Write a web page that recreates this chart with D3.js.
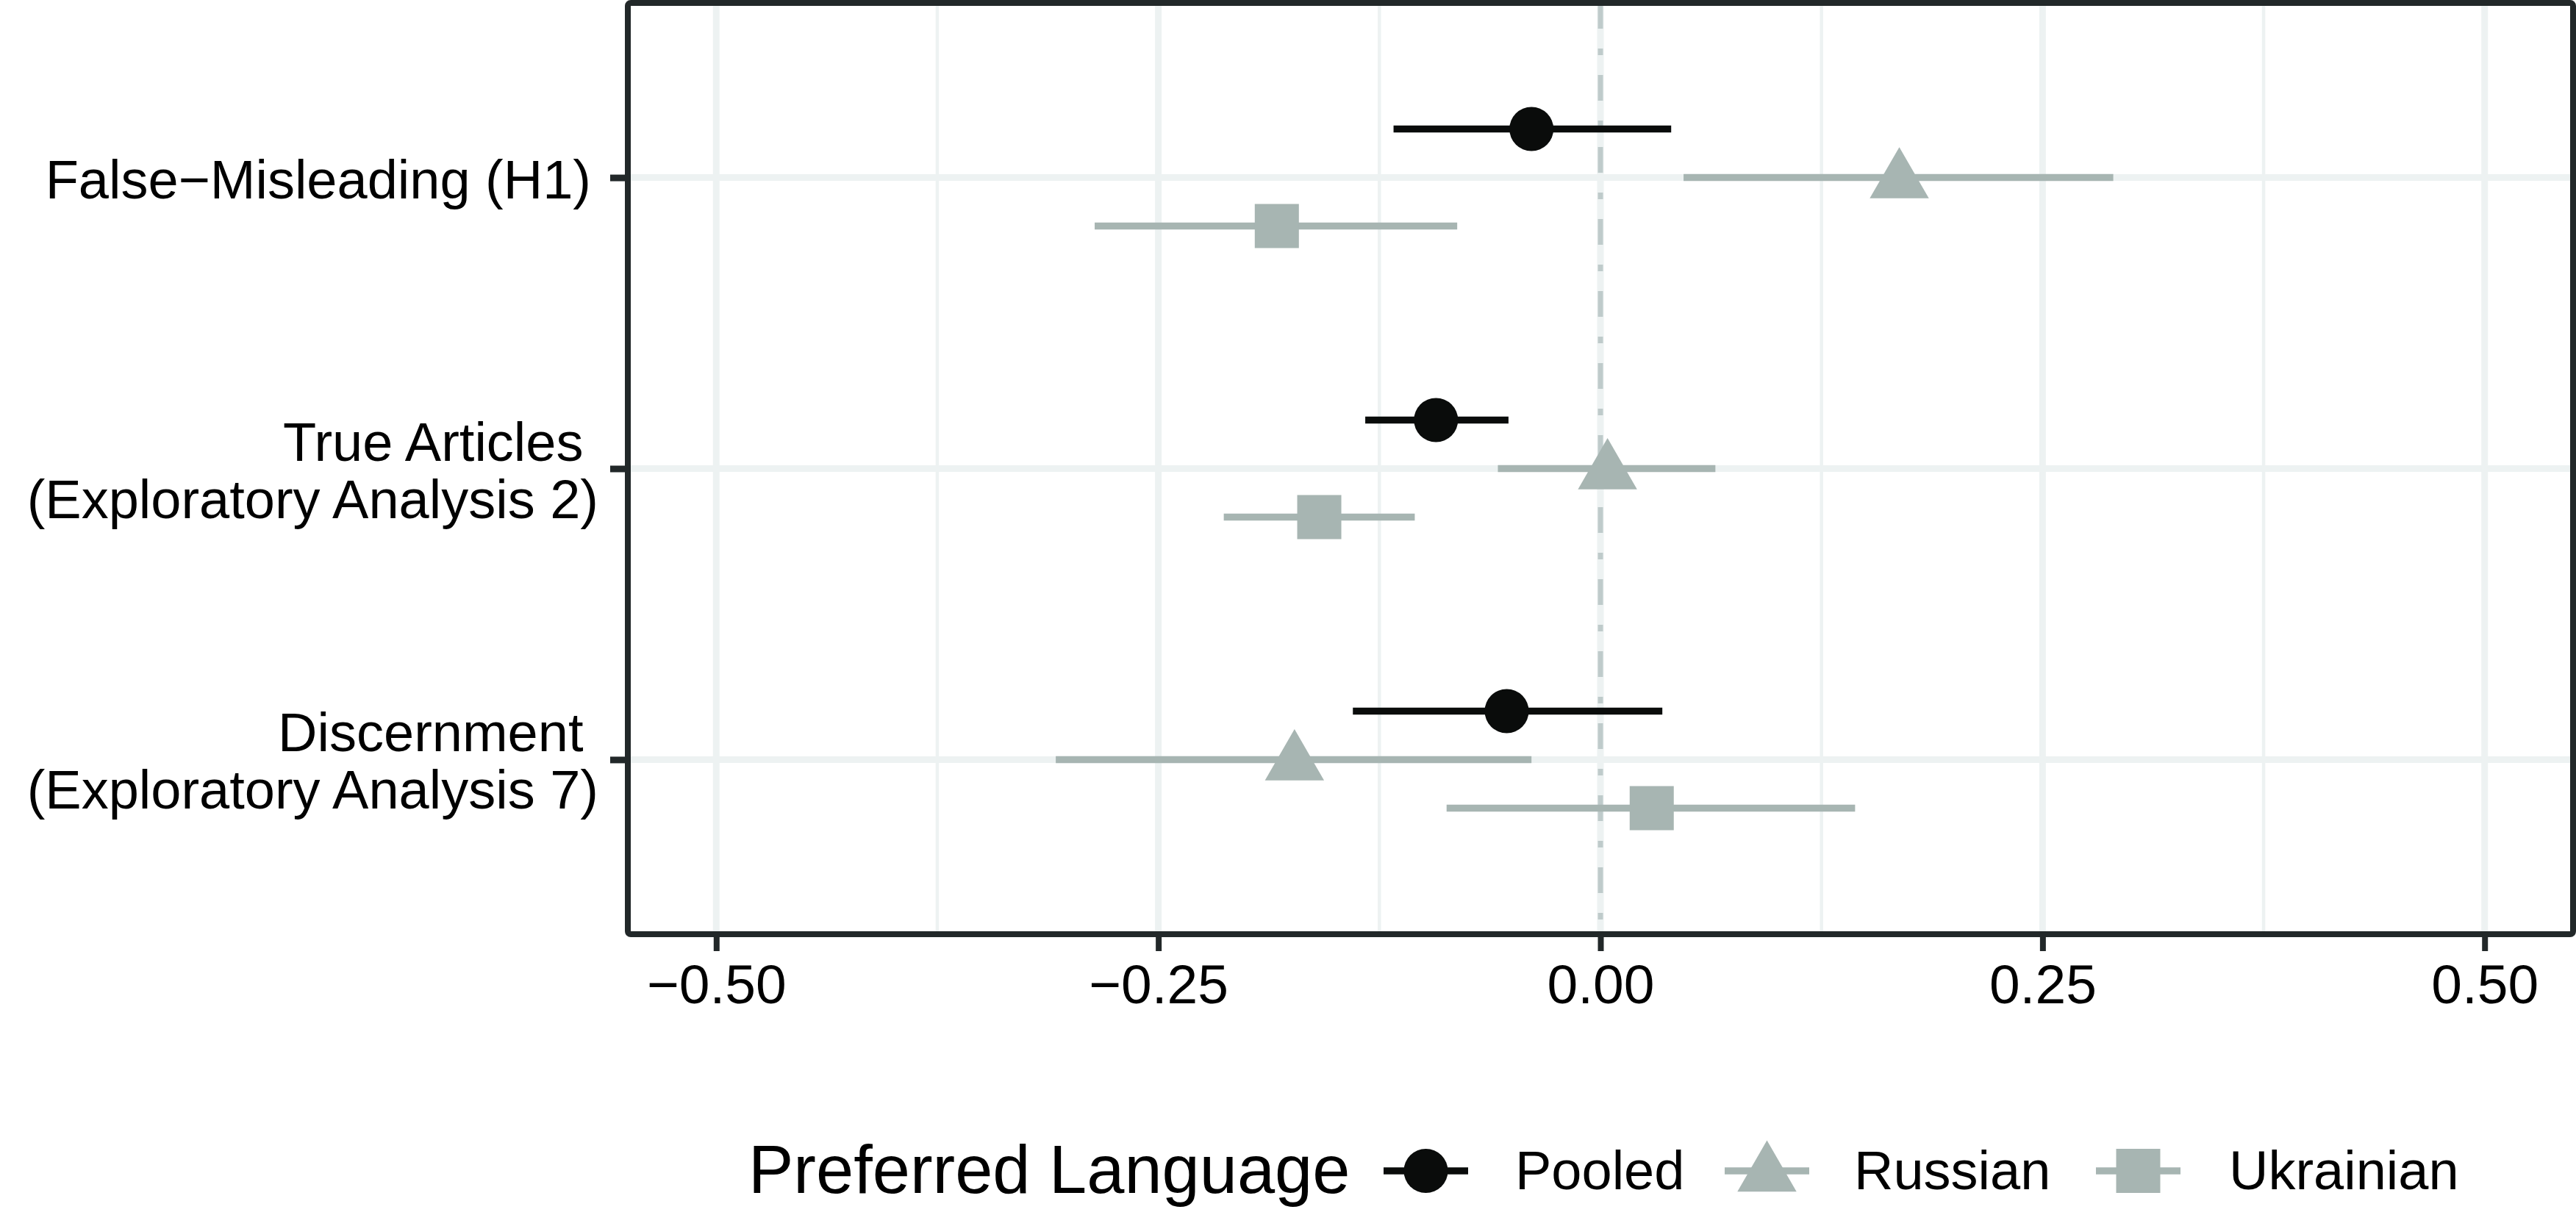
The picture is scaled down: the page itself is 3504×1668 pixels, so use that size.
<!DOCTYPE html>
<html>
<head>
<meta charset="utf-8">
<script src="https://cdn.jsdelivr.net/npm/d3@7"></script>
<style>
  html, body { margin: 0; padding: 0; background: #ffffff; }
  svg { display: block; }
  text { font-family: "Liberation Sans", Arial, Helvetica, sans-serif; fill: #000; }
</style>
</head>
<body>
<svg id="chart" width="3504" height="1668"></svg>
<script>
// ---------- DATA ----------
const outcomes = ["False\u2212Misleading (H1)", "True Articles\n(Exploratory Analysis 2)", "Discernment\n(Exploratory Analysis 7)"];
const groups = ["Pooled", "Russian", "Ukrainian"];
// estimates per outcome, order matches outcomes
const pooledEst   = [-0.039, -0.093, -0.053];
const pooledLow   = [-0.117, -0.133, -0.140];
const pooledHigh  = [ 0.040, -0.052,  0.035];
const russianEst  = [ 0.169,  0.004, -0.173];
const russianLow  = [ 0.047, -0.058, -0.308];
const russianHigh = [ 0.290,  0.065, -0.039];
const ukrEst      = [-0.183, -0.159,  0.029];
const ukrLow      = [-0.286, -0.213, -0.087];
const ukrHigh     = [-0.081, -0.105,  0.144];
const xTicks = [-0.50, -0.25, 0.00, 0.25, 0.50];
const xMinorTicks = [-0.375, -0.125, 0.125, 0.375];
const legendTitle = "Preferred Language";

// ---------- STYLE ----------
const colors = { Pooled: "#0a0c0b", Russian: "#a7b5b2", Ukrainian: "#a7b5b2" };
const shapes = { Pooled: d3.symbolCircle, Russian: d3.symbolTriangle, Ukrainian: d3.symbolSquare };
const shapeSize = { Pooled: 2830, Russian: 2800, Ukrainian: 3600 };

const rows = [];
const seriesArr = {
  Pooled: [pooledEst, pooledLow, pooledHigh],
  Russian: [russianEst, russianLow, russianHigh],
  Ukrainian: [ukrEst, ukrLow, ukrHigh]
};
outcomes.forEach((o, i) => {
  groups.forEach(g => {
    const [e, l, h] = seriesArr[g];
    rows.push({ outcome: o, group: g, est: e[i], low: l[i], high: h[i] });
  });
});

const svg = d3.select("#chart");
const panel = { left: 854, right: 3500, top: 4, bottom: 1271 };

const x = d3.scaleLinear().domain([-0.55, 0.55]).range([panel.left, panel.right]);
const y = d3.scalePoint().domain(outcomes).range([panel.top, panel.bottom]).padding(0.6);
const dodge = d3.scalePoint().domain(groups).range([-y.step() / 6, y.step() / 6]);

// grid
const g = svg.append("g");
g.selectAll(".minor").data(xMinorTicks).join("line")
  .attr("x1", d => x(d)).attr("x2", d => x(d))
  .attr("y1", panel.top).attr("y2", panel.bottom)
  .attr("stroke", "#edf2f2").attr("stroke-width", 4.5);
g.selectAll(".majorx").data(xTicks).join("line")
  .attr("x1", d => x(d)).attr("x2", d => x(d))
  .attr("y1", panel.top).attr("y2", panel.bottom)
  .attr("stroke", "#edf2f2").attr("stroke-width", 9);
g.selectAll(".majory").data(outcomes).join("line")
  .attr("x1", panel.left).attr("x2", panel.right)
  .attr("y1", d => y(d)).attr("y2", d => y(d))
  .attr("stroke", "#edf2f2").attr("stroke-width", 9);

// zero reference line (dot-dash)
g.append("line")
  .attr("x1", x(0)).attr("x2", x(0))
  .attr("y1", panel.top).attr("y2", panel.bottom)
  .attr("stroke", "#bfcbcb").attr("stroke-width", 7)
  .attr("stroke-dasharray", "35,27,9,27");

// error bars
g.selectAll(".err").data(rows).join("line")
  .attr("x1", d => x(d.low)).attr("x2", d => x(d.high))
  .attr("y1", d => y(d.outcome) + dodge(d.group))
  .attr("y2", d => y(d.outcome) + dodge(d.group))
  .attr("stroke", d => colors[d.group]).attr("stroke-width", 9.5);

// points
g.selectAll(".pt").data(rows).join("path")
  .attr("transform", d => {
    const dy = d.group === "Russian" ? 5 : 0;
    return `translate(${x(d.est)},${y(d.outcome) + dodge(d.group) + dy})`;
  })
  .attr("d", d => d3.symbol().type(shapes[d.group]).size(shapeSize[d.group])())
  .attr("fill", d => colors[d.group]);

// panel border
svg.append("rect")
  .attr("x", panel.left).attr("y", panel.top)
  .attr("width", panel.right - panel.left).attr("height", panel.bottom - panel.top)
  .attr("fill", "none").attr("stroke", "#222829").attr("stroke-width", 8).attr("rx", 4);

// x axis
const xAxis = svg.append("g").attr("transform", `translate(0,${panel.bottom})`)
  .call(d3.axisBottom(x).tickValues(xTicks).tickSize(23).tickPadding(18)
    .tickFormat(d => d3.format(".2f")(d).replace("-", "\u2212")));
xAxis.select(".domain").remove();
xAxis.selectAll(".tick line").attr("stroke", "#222829").attr("stroke-width", 8);
xAxis.selectAll(".tick text").attr("font-size", 75).attr("fill", "#000")
  .attr("font-family", "Liberation Sans, Arial, sans-serif");

// y axis
const yAxis = svg.append("g").attr("transform", `translate(${panel.left},0)`)
  .call(d3.axisLeft(y).tickSize(24).tickFormat(""));
yAxis.select(".domain").remove();
yAxis.selectAll(".tick line").attr("stroke", "#222829").attr("stroke-width", 9);

const labelX = 814;
outcomes.forEach(o => {
  const lines = o.split("\n");
  const t = svg.append("text").attr("text-anchor", "end").attr("font-size", 74)
    .style("white-space", "pre");
  if (lines.length === 1) {
    t.append("tspan").attr("x", labelX - 10).attr("y", y(o) + 28).text(lines[0]);
  } else {
    t.append("tspan").attr("x", labelX).attr("y", y(o) - 11).text(lines[0] + " ");
    t.append("tspan").attr("x", labelX).attr("y", y(o) + 67).text(lines[1]);
  }
});

// legend
const legY = 1593;
svg.append("text").attr("x", 1018).attr("y", 1623).attr("font-size", 92).text(legendTitle);
const keyStarts = [1882, 2346, 2851];
const labelStarts = [2061, 2522, 3032];
groups.forEach((grp, i) => {
  const k = svg.append("g");
  k.append("line").attr("x1", keyStarts[i]).attr("x2", keyStarts[i] + 115)
    .attr("y1", legY).attr("y2", legY)
    .attr("stroke", colors[grp]).attr("stroke-width", 9.5);
  const dy = grp === "Russian" ? 5 : 0;
  k.append("path")
    .attr("transform", `translate(${keyStarts[i] + 57.5},${legY + dy})`)
    .attr("d", d3.symbol().type(shapes[grp]).size(shapeSize[grp])())
    .attr("fill", colors[grp]);
  svg.append("text").attr("x", labelStarts[i]).attr("y", 1618).attr("font-size", 74).text(grp);
});
</script>
</body>
</html>
